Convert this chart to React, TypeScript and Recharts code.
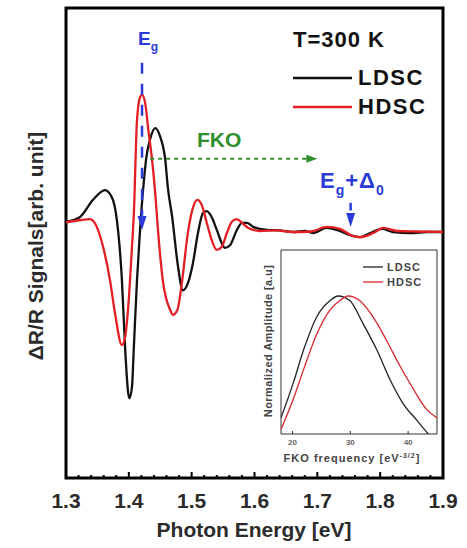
import React from 'react';
import { LineChart, Line, XAxis, YAxis, ReferenceArea, ReferenceLine, ReferenceDot } from 'recharts';

// ΔR/R spectra (photon energy in eV, signal in arb. units)
const ldscEnergy = [
  1.3, 1.322, 1.343, 1.362, 1.373, 1.381, 1.389, 1.394, 1.399, 1.401, 1.405, 1.408, 1.413, 1.418, 1.423,
  1.428, 1.434, 1.442, 1.45, 1.458, 1.462, 1.469, 1.478, 1.486, 1.494, 1.502, 1.51, 1.518, 1.524, 1.532, 1.54,
  1.548, 1.553, 1.561, 1.572, 1.58, 1.588, 1.598, 1.62, 1.64, 1.661, 1.68, 1.693, 1.715, 1.731, 1.752,
  1.768, 1.784, 1.803, 1.82, 1.848, 1.875, 1.9,
];
const ldscSignal = [
  0.23, 0.32, 0.66, 0.85, 0.71, 0.26, -0.91, -2.22, -3.12, -3.22, -3.0, -2.22, -0.91, 0.1, 0.9,
  1.5, 1.85, 2.06, 1.89, 1.44, 0.91, 0.32, -0.62, -1.11, -0.97, -0.58, 0.01, 0.4, 0.44, 0.32, 0.07,
  -0.19, -0.28, -0.23, 0.07, 0.21, 0.21, 0.13, 0.07, 0.06, 0.03, 0.05, 0.01, 0.11, 0.07, -0.03,
  -0.07, 0.01, 0.09, 0.03, 0.01, 0.03, 0.03,
];
const hdscEnergy = [
  1.3, 1.322, 1.338, 1.349, 1.359, 1.37, 1.378, 1.389, 1.394, 1.399, 1.405, 1.408, 1.413, 1.418, 1.421,
  1.426, 1.431, 1.437, 1.442, 1.446, 1.454, 1.466, 1.47, 1.477, 1.485, 1.493, 1.501, 1.509, 1.516, 1.524,
  1.532, 1.54, 1.548, 1.556, 1.564, 1.572, 1.58, 1.59, 1.609, 1.635, 1.661, 1.69, 1.715, 1.736, 1.757,
  1.768, 1.789, 1.805, 1.827, 1.86, 1.9,
];
const hdscSignal = [
  0.22, 0.26, 0.28, 0.13, -0.26, -0.91, -1.56, -2.18, -2.03, -1.44, -0.26, 0.4, 2.22, 2.67, 2.71,
  2.55, 2.03, 1.44, 0.79, 0.13, -0.91, -1.5, -1.59, -1.5, -0.91, -0.07, 0.46, 0.66, 0.56, 0.21,
  -0.13, -0.32, -0.26, 0.01, 0.23, 0.28, 0.21, 0.11, 0.05, 0.06, 0.03, 0.04, 0.13, 0.09, -0.05,
  -0.07, 0.01, 0.11, 0.05, 0.04, 0.03,
];

// FKO frequency spectra (inset)
const ldscFreq = [18, 20.1, 21.9, 24.2, 26.5, 27.9, 29.9, 32.2, 34.6, 36.9, 39.2, 41.5, 43.5, 45];
const ldscAmp = [0.47, 0.62, 0.765, 0.91, 0.98, 1.0, 0.98, 0.88, 0.765, 0.635, 0.53, 0.46, 0.4, 0.36];
const hdscFreq = [18, 20.1, 21.9, 24.2, 26.5, 28.2, 29.6, 31.6, 33.9, 36.2, 38.5, 40.8, 43.1, 45];
const hdscAmp = [0.42, 0.55, 0.68, 0.835, 0.94, 0.98, 1.0, 0.98, 0.91, 0.81, 0.7, 0.6, 0.51, 0.47];

const energyDomain = [1.3, 1.9];
const signalDomain = [-4.78, 4.41];
const signalTicks = [4, 2, 0, -2, -4];
const energyTicks = Array.from({ length: 31 }, (_, i) => +(1.3 + i * 0.02).toFixed(2));
const freqDomain = [18, 45];
const freqTicks = [20, 30, 40];
const ampDomain = [0.4, 1.2];
const ampTicks = [0.4, 0.6, 0.8, 1.0];

// annotation anchors in data units
const egEnergy = 1.421;
const egSoEnergy = 1.753;
const fkoLevel = 1.46;
const fkoStart = 1.434;
const fkoEnd = 1.7;

const ldsc = ldscEnergy.map((e, i) => ({ e, v: ldscSignal[i] }));
const hdsc = hdscEnergy.map((e, i) => ({ e, v: hdscSignal[i] }));
const ldscFko = ldscFreq.map((f, i) => ({ f, a: ldscAmp[i] }));
const hdscFko = hdscFreq.map((f, i) => ({ f, a: hdscAmp[i] }));

const FONT = '"Liberation Sans", Arial, sans-serif';
const BLUE = '#2a3bd8';
const GREEN = '#2f8f2f';
const RED = '#e31e24';

function EnergyTick({ x, y, payload }: any) {
  const v = payload.value;
  const major = Math.abs(v * 10 - Math.round(v * 10)) < 1e-6;
  return (
    <g>
      <line x1={x} x2={x} y1={y} y2={y - (major ? 6 : 3)} stroke="#000" strokeWidth={2} />
      {major && (
        <text x={x} y={y + 30} textAnchor="middle" fontFamily={FONT} fontWeight="bold" fontSize={21} fill="#2b2b2b">
          {v.toFixed(1)}
        </text>
      )}
    </g>
  );
}

function SignalTick({ x, y }: any) {
  return <line x1={x} x2={x + 6} y1={y} y2={y} stroke="#000" strokeWidth={2} />;
}

function FreqTick({ x, y, payload }: any) {
  return (
    <g>
      <line x1={x} x2={x} y1={y} y2={y - 3} stroke="#333" strokeWidth={1} />
      <text x={x} y={y + 11} textAnchor="middle" fontFamily={FONT} fontWeight="bold" fontSize={8} fill="#666">
        {payload.value}
      </text>
    </g>
  );
}

function AmpTick({ x, y }: any) {
  return <line x1={x} x2={x + 3} y1={y} y2={y} stroke="#333" strokeWidth={1} />;
}

function DownArrow({ cx, cy }: any) {
  return <path d={`M${cx - 4.5},${cy - 14} L${cx + 4.5},${cy - 14} L${cx},${cy} Z`} fill={BLUE} />;
}

function RightArrow({ cx, cy }: any) {
  return <path d={`M${cx - 11},${cy - 4} L${cx - 11},${cy + 4} L${cx},${cy} Z`} fill={GREEN} />;
}

const ax = { xAxisId: 'e', yAxisId: 's' };

function FkoInset() {
  const ix = { xAxisId: 'f', yAxisId: 'a' };
  return (
    <div style={{ position: 'absolute', left: 256, top: 240 }}>
      <LineChart width={190} height={235} margin={{ top: 10, right: 9, bottom: 0, left: 25 }}>
        <XAxis
          xAxisId="f"
          type="number"
          dataKey="f"
          domain={freqDomain}
          ticks={freqTicks}
          interval={0}
          height={41}
          axisLine={false}
          tickLine={false}
          tickSize={0}
          tickMargin={0}
          tick={(p: any) => <FreqTick {...p} />}
          allowDataOverflow
        />
        <YAxis
          yAxisId="a"
          type="number"
          domain={ampDomain}
          ticks={ampTicks}
          interval={0}
          width={0}
          axisLine={false}
          tickLine={false}
          tickSize={0}
          tickMargin={0}
          tick={(p: any) => <AmpTick {...p} />}
          allowDataOverflow
        />
        <Line {...ix} data={ldscFko} dataKey="a" type="monotone" stroke="#222" strokeWidth={1.3} dot={false} isAnimationActive={false} />
        <Line {...ix} data={hdscFko} dataKey="a" type="monotone" stroke="#d8262e" strokeWidth={1.3} dot={false} isAnimationActive={false} />
        <ReferenceArea {...ix} x1={freqDomain[0]} x2={freqDomain[1]} y1={ampDomain[0]} y2={ampDomain[1]} fill="none" stroke="#333" strokeWidth={1} />
      </LineChart>
    </div>
  );
}

function Annotations() {
  return (
    <svg width={467} height={548} style={{ position: 'absolute', left: 0, top: 0, pointerEvents: 'none' }} fontFamily={FONT}>
      <text transform="translate(43,246) rotate(-90)" textAnchor="middle" fontSize={21} fontWeight="bold" fill="#2b2b2b">
        ΔR/R Signals[arb. unit]
      </text>
      <text x={254} y={537} textAnchor="middle" fontSize={21} fontWeight="bold" fill="#2b2b2b">
        Photon Energy [eV]
      </text>

      <text x={293} y={47} fontSize={22} fontWeight="bold" letterSpacing={1} fill="#111">T=300 K</text>
      <line x1={293} x2={352} y1={78} y2={78} stroke="#111" strokeWidth={2.5} />
      <text x={358} y={85} fontSize={22} fontWeight="bold" letterSpacing={1.5} fill="#111">LDSC</text>
      <line x1={293} x2={352} y1={107} y2={107} stroke={RED} strokeWidth={2.5} />
      <text x={358} y={114} fontSize={22} fontWeight="bold" letterSpacing={1.5} fill="#111">HDSC</text>

      <text x={138} y={45} fontSize={19} fontWeight="bold" fill={BLUE}>
        E<tspan fontSize={12} dy={6}>g</tspan>
      </text>
      <text x={197} y={147} fontSize={21} fontWeight="bold" fill={GREEN}>FKO</text>
      <text x={320} y={188} fontSize={22} fontWeight="bold" letterSpacing={1} fill={BLUE}>
        E<tspan fontSize={14} dy={7}>g</tspan>
        <tspan dy={-7}>+Δ</tspan>
        <tspan fontSize={14} dy={7}>0</tspan>
      </text>

      <text transform="translate(272,341) rotate(-90)" textAnchor="middle" fontSize={11} fontWeight="bold" letterSpacing={0.4} fill="#444">
        Normalized Amplitude [a.u]
      </text>
      <text x={352} y={462} textAnchor="middle" fontSize={11} fontWeight="bold" letterSpacing={1} fill="#444">
        FKO frequency [eV<tspan fontSize={7} dy={-4}>-3/2</tspan>
        <tspan dy={4}>]</tspan>
      </text>
      <line x1={363} x2={383} y1={267} y2={267} stroke="#222" strokeWidth={1.3} />
      <text x={387} y={271} fontSize={11} fontWeight="bold" letterSpacing={1} fill="#444">LDSC</text>
      <line x1={363} x2={383} y1={282} y2={282} stroke="#d8262e" strokeWidth={1.3} />
      <text x={387} y={286} fontSize={11} fontWeight="bold" letterSpacing={1} fill="#444">HDSC</text>
    </svg>
  );
}

export default function App() {
  return (
    <div style={{ position: 'absolute', left: 0, top: 0, width: 467, height: 548, background: '#fff', overflow: 'hidden' }}>
      <LineChart width={467} height={548} margin={{ top: 8, right: 24, bottom: 0, left: 66 }}>
        <XAxis
          xAxisId="e"
          type="number"
          dataKey="e"
          domain={energyDomain}
          ticks={energyTicks}
          interval={0}
          height={70}
          axisLine={false}
          tickLine={false}
          tickSize={0}
          tickMargin={0}
          tick={(p: any) => <EnergyTick {...p} />}
          allowDataOverflow
        />
        <YAxis
          yAxisId="s"
          type="number"
          domain={signalDomain}
          ticks={signalTicks}
          interval={0}
          width={0}
          axisLine={false}
          tickLine={false}
          tickSize={0}
          tickMargin={0}
          tick={(p: any) => <SignalTick {...p} />}
          allowDataOverflow
        />
        <Line {...ax} data={ldsc} dataKey="v" type="monotone" stroke="#111" strokeWidth={2.3} dot={false} isAnimationActive={false} />
        <Line {...ax} data={hdsc} dataKey="v" type="monotone" stroke={RED} strokeWidth={2.3} dot={false} isAnimationActive={false} />

        {/* E_g marker */}
        <ReferenceLine {...ax} segment={[{ x: egEnergy, y: 3.34 }, { x: egEnergy, y: 0.35 }]} stroke={BLUE} strokeWidth={2.5} strokeDasharray="11 10" />
        <ReferenceDot {...ax} x={egEnergy} y={0.07} r={0} shape={(p: any) => <DownArrow {...p} />} />
        {/* FKO arrow */}
        <ReferenceLine {...ax} segment={[{ x: fkoStart, y: fkoLevel }, { x: fkoEnd - 0.015, y: fkoLevel }]} stroke={GREEN} strokeWidth={2} strokeDasharray="4 4" />
        <ReferenceDot {...ax} x={fkoEnd} y={fkoLevel} r={0} shape={(p: any) => <RightArrow {...p} />} />
        {/* E_g + Δ0 marker */}
        <ReferenceLine {...ax} segment={[{ x: egSoEnergy, y: 0.6 }, { x: egSoEnergy, y: 0.45 }]} stroke={BLUE} strokeWidth={2.5} />
        <ReferenceDot {...ax} x={egSoEnergy} y={0.13} r={0} shape={(p: any) => <DownArrow {...p} />} />

        <ReferenceArea {...ax} x1={energyDomain[0]} x2={energyDomain[1]} y1={signalDomain[0]} y2={signalDomain[1]} fill="none" stroke="#000" strokeWidth={3} />
      </LineChart>
      <FkoInset />
      <Annotations />
    </div>
  );
}
